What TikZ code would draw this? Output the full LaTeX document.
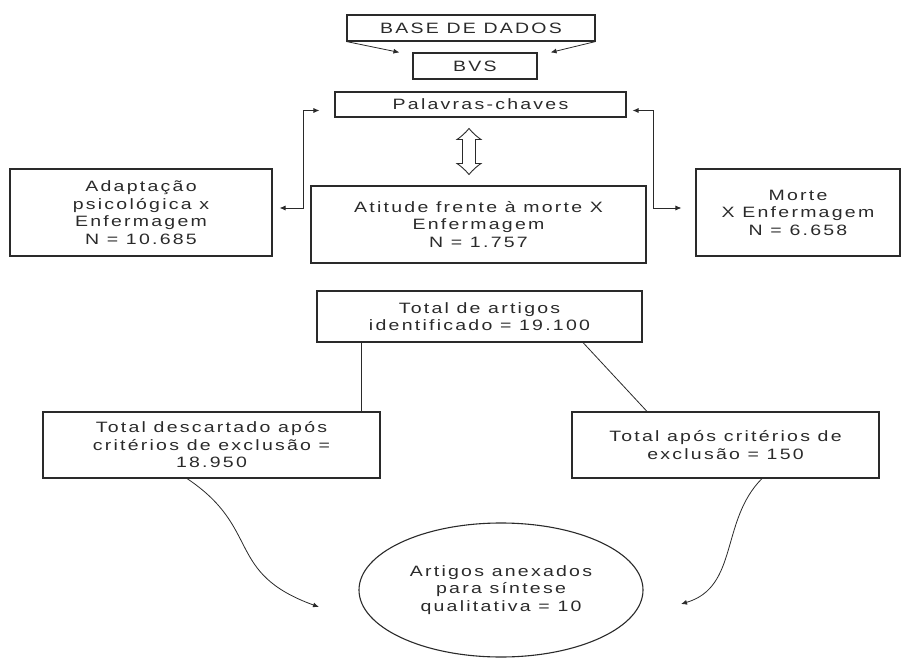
\documentclass[tikz,border=0pt]{standalone}
\usepackage{fontspec}
\setmainfont{Liberation Sans}[FakeStretch=1.3,LetterSpace=15]
\usetikzlibrary{arrows.meta,calc,shapes.geometric}
\definecolor{ink}{HTML}{2A2A2A}
\begin{document}
\begin{tikzpicture}[x=1pt,y=-1pt,
  box/.style={draw=ink, line width=1.1pt, inner sep=0pt, align=center, text=ink,
    font=\fontsize{15}{17.5}\selectfont},
  conn/.style={draw=ink, line width=0.8pt},
  tip/.style={-{Latex[length=6pt,width=5pt]}},
  tips/.style={{Latex[length=6pt,width=5pt]}-{Latex[length=6pt,width=5pt]}}
]
\useasboundingbox (0,0) rectangle (902,660);

\node[box, minimum width=248, minimum height=26] (base) at (471,28) {BASE DE DADOS};
\node[box, minimum width=124, minimum height=26] (bvs) at (475,66) {BVS};
\node[box, minimum width=291, minimum height=25] (pal) at (480.5,104.5) {Palavras-chaves};
\node[box, minimum width=262, minimum height=87] (adap) at (141,212.5) {Adaptação\\psicológica x\\Enfermagem\\N = 10.685};
\node[box, minimum width=335, minimum height=77] (atit) at (478.5,224.5) {Atitude frente à morte X\\Enfermagem\\N = 1.757};
\node[box, minimum width=204, minimum height=87] (morte) at (798,212.5) {Morte\\X Enfermagem\\N = 6.658};
\node[box, minimum width=325, minimum height=51] (total) at (479.5,316.5) {Total de artigos\\identificado = 19.100};
\node[box, minimum width=337, minimum height=66] (desc) at (211.5,445) {Total descartado após\\critérios de exclusão =\\18.950};
\node[box, minimum width=307, minimum height=66] (apos) at (725.5,445) {Total após critérios de\\exclusão = 150};
\node[box, ellipse, minimum width=284, minimum height=134] (ell) at (501,590) {Artigos anexados\\para síntese\\qualitativa = 10};

% base -> bvs
\draw[conn, tip] (base.south west) -- ($(bvs.north west)+(-13,0)$);
\draw[conn, tip] (base.south east) -- ($(bvs.north east)+(13,0)$);

% elbows
\coordinate (lA) at ($(pal.west)+(-15,6)$);
\coordinate (lB) at ($(adap.east)+(7,-4.5)$);
\draw[conn, tips] (lA) -- ++(-16,0) |- (lB);
\coordinate (rA) at ($(pal.east)+(6,6)$);
\coordinate (rB) at ($(morte.west)+(-14,-4.5)$);
\draw[conn, tips] (rA) -- ++(21,0) |- (rB);

% double arrow
\coordinate (dbl) at ($($(pal.south)!0.5!(atit.north)$)+(-10.5,0)$);
\draw[conn, line width=0.9pt, shift={(dbl)}]
  (0,-23) .. controls (4,-18) and (9,-14) .. (12,-12) -- (6.5,-12) -- (6.5,12) -- (12,12)
  .. controls (9,14) and (4,18) .. (0,23)
  .. controls (-4,18) and (-9,14) .. (-12,12) -- (-6.5,12) -- (-6.5,-12) -- (-12,-12)
  .. controls (-9,-14) and (-4,-18) .. cycle;

% total -> lower boxes
\coordinate (dtop) at ($(desc.north east)+(-19,0)$);
\draw[conn] (total.south -| dtop) -- (dtop);
\draw[conn] ($(total.south)+(103.5,0)$) -- ($(apos.north)+(-78.5,0)$);

% curves to ellipse
\coordinate (tipL) at (319,607);
\coordinate (tipR) at (681,604);
\draw[conn, tip] ($(desc.south)+(-24.5,0)$) .. controls +(75,50) and +(-94,-34) .. (tipL);
\draw[conn, tip] ($(apos.south)+(36.5,0)$) .. controls +(-42,42) and +(58,-17) .. (tipR);
\end{tikzpicture}
\end{document}
